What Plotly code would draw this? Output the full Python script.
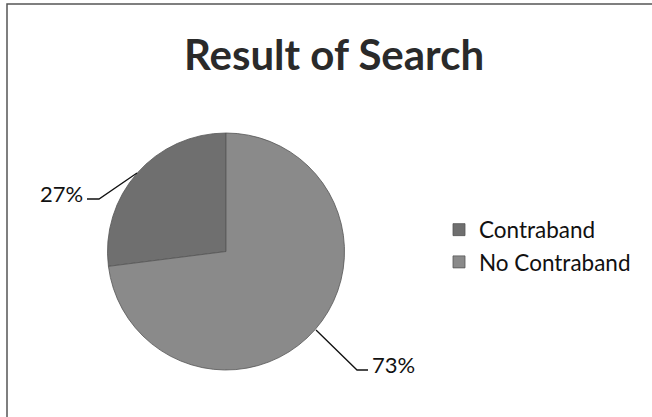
import plotly.graph_objects as go

# Data
categories = ["Contraband", "No Contraband"]
values = [27, 73]
colors = ["#6f6f6f", "#8a8a8a"]
title_text = "Result of Search"

W, H = 652, 417


def px(x, y):
    return x / W, 1 - y / H


total = sum(values)
pct = [f"{v / total * 100:.0f}%" for v in values]

fig = go.Figure(
    go.Pie(
        labels=categories,
        values=values,
        sort=False,
        direction="clockwise",
        rotation=-360 * values[0] / total,
        textinfo="none",
        hoverinfo="label+percent",
        marker=dict(colors=colors, line=dict(color="#555555", width=0.8)),
        domain=dict(x=[107 / W, 345 / W], y=[1 - 370 / H, 1 - 133 / H]),
        showlegend=True,
    )
)

# leader lines + labels
label_pos = [(61, 193), (394, 364)]
leader_paths = [
    [(87, 199), (99, 199), (137, 173)],
    [(316, 330), (357, 370), (368, 370)],
]
shapes = []
for pts in leader_paths:
    p = [px(*q) for q in pts]
    path = "M{},{} ".format(*p[0]) + " ".join("L{},{}".format(*q) for q in p[1:])
    shapes.append(dict(type="path", xref="paper", yref="paper", path=path,
                       line=dict(color="#111111", width=1.3)))

# border (top and left)
b = [px(7, 417), px(7, 4), px(652, 4)]
shapes.append(dict(type="path", xref="paper", yref="paper",
                   path="M{},{} L{},{} L{},{}".format(*b[0], *b[1], *b[2]),
                   line=dict(color="#555555", width=1.5)))

annotations = []
for (x, y), t in zip(label_pos, pct):
    ax, ay = px(x, y)
    annotations.append(dict(x=ax, y=ay, xref="paper", yref="paper", text=t,
                            showarrow=False, xanchor="center", yanchor="middle",
                            font=dict(family="Lato", size=22, color="#111111")))

fig.update_layout(
    width=W, height=H,
    margin=dict(l=0, r=0, t=0, b=0),
    paper_bgcolor="white", plot_bgcolor="white",
    title=dict(text="<b>" + title_text + "</b>", x=334 / W, xanchor="center",
               y=1 - 55 / H, yanchor="middle", yref="container",
               font=dict(family="Lato", size=42, color="#2a2a2a")),
    legend=dict(x=439 / W, y=1 - 246 / H, xanchor="left", yanchor="middle",
                font=dict(family="Lato", size=22.5, color="#111111"),
                bgcolor="rgba(0,0,0,0)"),
    shapes=shapes,
    annotations=annotations,
)

fig.write_html("out.html", config={"displayModeBar": False},
               post_script="document.body.style.margin='0px';document.body.style.overflow='hidden';")
